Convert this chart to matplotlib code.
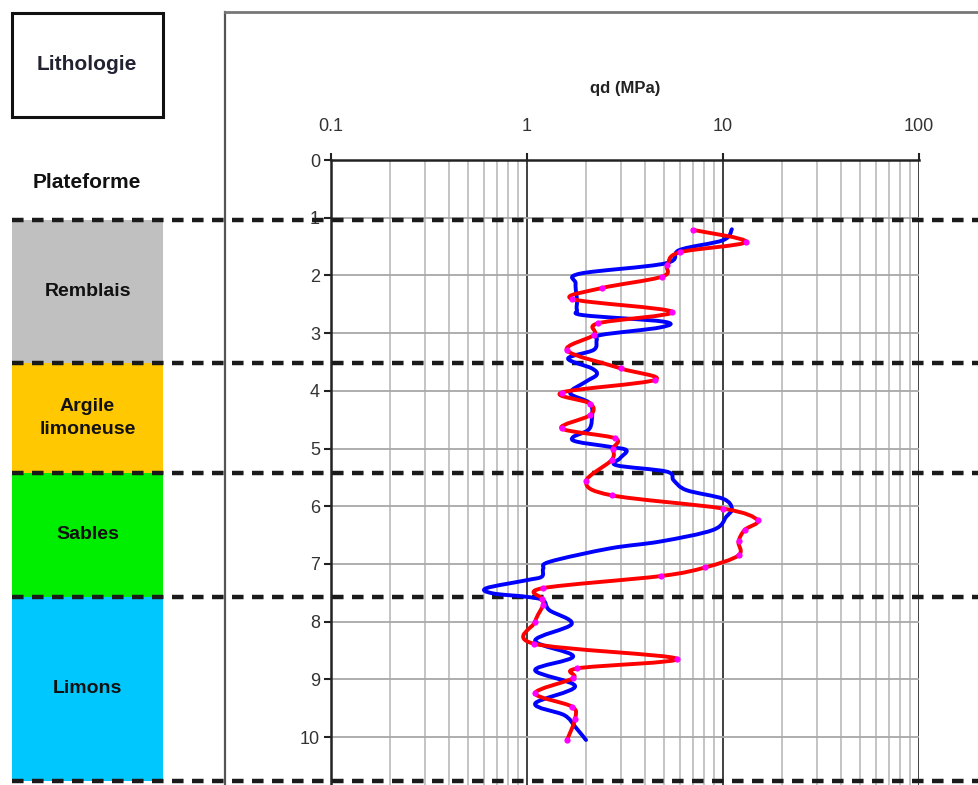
import numpy as np
import matplotlib
matplotlib.use('Agg')
import matplotlib.pyplot as plt
from matplotlib.patches import Rectangle, PathPatch
from matplotlib.lines import Line2D
from matplotlib.path import Path
from matplotlib.ticker import FixedLocator, FixedFormatter, NullFormatter
import matplotlib.transforms as mtransforms

plt.rcParams['font.family'] = ['Liberation Sans Narrow', 'Liberation Sans', 'DejaVu Sans']

# ---------------- data ----------------
layer_names = ['Remblais', 'Argile\nlimoneuse', 'Sables', 'Limons']
layer_tops = [1.04, 3.52, 5.42, 7.57]
layer_bottoms = [3.52, 5.42, 7.57, 10.76]
layer_colors = ['#c0c0c0', '#ffc800', '#00ee00', '#00c8ff']
boundaries = [1.04, 3.52, 5.42, 7.57, 10.76]

blue_depth = [1.20, 1.39, 1.56, 1.79, 1.97, 2.14, 2.43, 2.60, 2.69, 2.80, 2.90,
              3.03, 3.12, 3.29, 3.44, 3.61, 3.72, 3.84, 4.04, 4.22, 4.51, 4.68,
              4.80, 4.88, 4.97, 5.03, 5.17, 5.29, 5.40, 5.55, 5.72, 5.87, 6.04,
              6.18, 6.41, 6.61, 6.73, 6.96, 7.08, 7.22, 7.28, 7.42, 7.51, 7.57,
              7.63, 7.80, 8.04, 8.33, 8.60, 8.84, 9.12, 9.42, 9.62, 9.82, 10.05]
blue_qd = [11.1, 10.0, 6.0, 5.1, 1.86, 1.77, 1.80, 1.80, 1.95, 4.95, 4.8,
           2.4, 2.27, 2.19, 1.62, 2.14, 2.27, 2.0, 1.66, 2.10, 2.14, 2.05,
           1.72, 1.79, 2.65, 3.22, 2.98, 2.86, 5.16, 5.6, 6.5, 10.0, 11.1,
           10.4, 8.9, 4.8, 2.65, 1.31, 1.21, 1.19, 1.0, 0.62, 0.67, 1.0,
           1.21, 1.30, 1.69, 1.10, 1.72, 1.10, 1.76, 1.10, 1.55, 1.76, 2.0]

red_depth = [1.21, 1.42, 1.60, 1.82, 2.02, 2.22, 2.41, 2.63, 2.83, 3.03, 3.30,
             3.61, 3.81, 4.03, 4.22, 4.42, 4.65, 4.82, 5.00, 5.20, 5.57, 5.81,
             6.04, 6.24, 6.41, 6.61, 6.85, 7.06, 7.21, 7.42, 7.60, 7.71, 8.00,
             8.38, 8.64, 8.81, 8.98, 9.24, 9.47, 9.68, 10.05]
red_qd = [7.0, 13.1, 6.0, 5.2, 4.9, 2.4, 1.7, 5.5, 2.3, 2.2, 1.6,
          3.0, 4.5, 1.5, 2.1, 2.1, 1.5, 2.8, 2.75, 2.7, 2.0, 2.7,
          10.0, 15.0, 12.9, 12.0, 12.0, 8.1, 4.8, 1.2, 1.19, 1.21, 1.10,
          1.08, 5.8, 1.8, 1.72, 1.10, 1.69, 1.76, 1.6]

x_ticks = [0.1, 1, 10, 100]
x_tick_labels = ['0.1', '1', '10', '100']
y_ticks = [0, 1, 2, 3, 4, 5, 6, 7, 8, 9, 10]
minor_x = [m * d for d in (0.1, 1, 10) for m in range(2, 10)]


def smooth_path(xs, ys):
    """Smoothed-line style (Bezier through the points, like a spreadsheet
    'smoothed line'); control points built in log-x / depth space."""
    P = np.column_stack([np.log10(xs), np.asarray(ys, float)])
    n = len(P)
    verts = [P[0]]
    codes = [Path.MOVETO]
    for i in range(n - 1):
        p0 = P[i - 1] if i > 0 else P[i]
        p1 = P[i]
        p2 = P[i + 1]
        p3 = P[i + 2] if i + 2 < n else P[i + 1]
        verts += [p1 + (p2 - p0) / 6.0, p2 - (p3 - p1) / 6.0, p2]
        codes += [Path.CURVE4] * 3
    V = np.array(verts)
    V[:, 0] = 10 ** V[:, 0]
    return Path(V, codes)


# ---------------- layout ----------------
W, H = 979, 785
fig = plt.figure(figsize=(W / 100, H / 100), dpi=100)


def fx(px):
    return px / W


def fy(py):
    return 1 - py / H


YMAX = 10.83

# lithology column (added first so dashed lines of main axes draw over it)
ax2 = fig.add_axes([fx(12), 0, fx(163) - fx(12), fy(160)])
ax2.set_xlim(0, 1)
ax2.set_ylim(YMAX, 0)
ax2.axis('off')
for name, t, b, c in zip(layer_names, layer_tops, layer_bottoms, layer_colors):
    ax2.axhspan(t, b, color=c, lw=0)
    ax2.text(0.5, (t + b) / 2, name, ha='center', va='center', fontsize=14,
             fontweight='bold', color='#111111', linespacing=1.5)

ax = fig.add_axes([fx(331), 0, fx(919) - fx(331), fy(160)])
ax.patch.set_alpha(0)
ax.set_xscale('log')
ax.set_xlim(0.1, 100)
ax.set_ylim(YMAX, 0)

ax.xaxis.set_major_locator(FixedLocator(x_ticks))
ax.xaxis.set_major_formatter(FixedFormatter(x_tick_labels))
ax.xaxis.set_minor_locator(FixedLocator(minor_x))
ax.xaxis.set_minor_formatter(NullFormatter())
ax.yaxis.set_major_locator(FixedLocator(y_ticks))
ax.yaxis.set_minor_locator(FixedLocator([]))

ax.xaxis.tick_top()
ax.tick_params(axis='x', which='major', top=True, bottom=False, labeltop=True,
               labelbottom=False, length=5, width=1.5, pad=13, labelsize=13,
               color='#222222', labelcolor='#333333')
ax.tick_params(axis='x', which='minor', top=False, bottom=False, length=0)
ax.tick_params(axis='y', which='major', left=True, length=5, width=1.5, pad=3,
               labelsize=13, color='#222222', labelcolor='#333333')

ax.grid(which='minor', axis='x', color='#b4b4b4', lw=1.1)
ax.grid(which='major', axis='x', color='#333333', lw=1.3)
ax.grid(which='major', axis='y', color='#a8a8a8', lw=1.3)
ax.set_axisbelow(True)

for s in ('right', 'bottom'):
    ax.spines[s].set_visible(False)
for s in ('top', 'left'):
    ax.spines[s].set_color('#222222')
    ax.spines[s].set_linewidth(1.8)

# layer boundaries, dashed across the whole figure
trans = mtransforms.blended_transform_factory(fig.transFigure, ax.transData)
for b in boundaries:
    ax.plot([fx(12), 1.0], [b, b], transform=trans, clip_on=False,
            color='#1a1a1a', lw=3.2, linestyle=(0, (2.6, 1.9)),
            dash_capstyle='butt', zorder=2)

# curves (smoothed lines)
ax.add_patch(PathPatch(smooth_path(blue_qd, blue_depth), fill=False,
                       edgecolor='#0000ff', lw=2.8, zorder=3,
                       joinstyle='round', capstyle='round'))
ax.add_patch(PathPatch(smooth_path(red_qd, red_depth), fill=False,
                       edgecolor='#ff0000', lw=2.8, zorder=4,
                       joinstyle='round', capstyle='round'))
ax.plot(red_qd, red_depth, linestyle='none', marker='o', markersize=4.5,
        markerfacecolor='#ff00ff', markeredgewidth=0, zorder=5)

# titles / labels
fig.text(fx(625), fy(88), 'qd (MPa)', ha='center', va='center', fontsize=12,
         fontweight='bold', color='#222222')
fig.text(fx(87), fy(65), 'Lithologie', ha='center', va='center', fontsize=15,
         fontweight='bold', color='#222233')
fig.text(fx(87), fy(183), 'Plateforme', ha='center', va='center', fontsize=15,
         fontweight='bold', color='#111111')

fig.add_artist(Rectangle((fx(12), fy(117)), fx(163) - fx(12), (117 - 13) / H,
                         transform=fig.transFigure, fill=False,
                         edgecolor='#111111', lw=2.2))

# outer chart frame
fig.add_artist(Line2D([fx(225), fx(225)], [0, fy(12)], transform=fig.transFigure,
                      color='#555555', lw=1.6))
fig.add_artist(Line2D([fx(225), 1.0], [fy(12), fy(12)], transform=fig.transFigure,
                      color='#777777', lw=2.0))

fig.savefig('out.png', dpi=100)
